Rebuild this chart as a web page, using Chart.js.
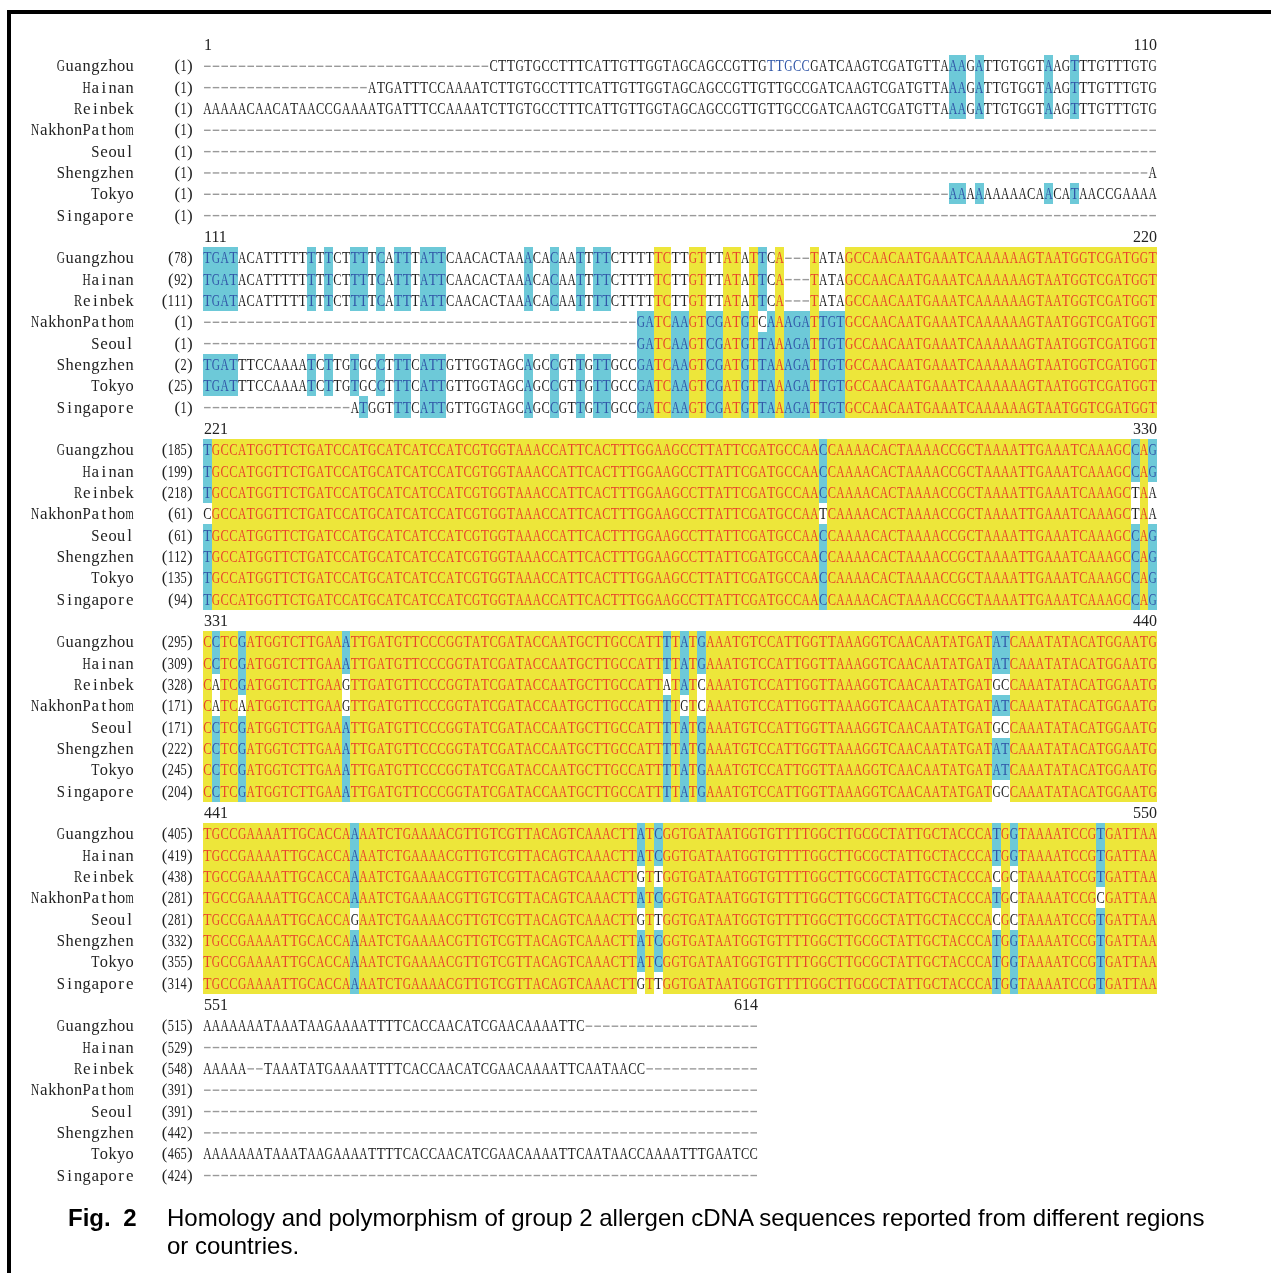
<!DOCTYPE html>
<html>
<head>
<meta charset="utf-8">
<script src="https://cdn.jsdelivr.net/npm/chart.js@4.4.0/dist/chart.umd.min.js"></script>
<style>
  html, body { margin: 0; padding: 0; background: #fff; }
  #wrap { position: relative; width: 1271px; height: 1273px; overflow: hidden; }
  #frame { position: absolute; left: 7px; top: 10px; width: 1300px; height: 1300px;
           border-left: 4px solid #000; border-top: 4px solid #000; }
  canvas { position: absolute; left: 0; top: 0; }
  .cap { position: absolute; top: 1204px; font-family: "Liberation Sans", Arial, sans-serif;
         font-size: 24px; line-height: 28px; color: #000; white-space: nowrap; }
</style>
</head>
<body>
<div id="wrap">
  <div id="frame"></div>
  <canvas id="grafico" width="1271" height="1273"></canvas>
  <div class="cap" style="left:68px;font-weight:bold;word-spacing:6px">Fig. 2</div>
  <div class="cap" style="left:167px">Homology and polymorphism of group 2 allergen cDNA sequences reported from different regions<br>or countries.</div>
</div>
<script>
// nomes das sequ칡ncias (linhas de cada bloco)
const nomes = ["Guangzhou", "Hainan", "Reinbek", "NakhonPathom", "Seoul", "Shengzhen", "Tokyo", "Singapore"];
const inicioBlocos = [1, 111, 221, 331, 441, 551];
const fimBlocos = [110, 220, 330, 440, 550, 614];

const lacuna = (n) => "-".repeat(n);

const bloco1 = [
  lacuna(33) + "CTTGTGCCTTTCATTGTTGGTAGCAGCCGTTGTTGCCGATCAAGTCGATGTTAAAGATTGTGGTAAGTTTGTTTGTG",
  lacuna(19) + "ATGATTTCCAAAAT" + "CTTGTGCCTTTCATTGTTGGTAGCAGCCGTTGTTGCCGATCAAGTCGATGTTAAAGATTGTGGTAAGTTTGTTTGTG",
  "AAAAACAACATAACCGAAAATGATTTCCAAAAT" + "CTTGTGCCTTTCATTGTTGGTAGCAGCCGTTGTTGCCGATCAAGTCGATGTTAAAGATTGTGGTAAGTTTGTTTGTG",
  lacuna(110),
  lacuna(110),
  lacuna(109) + "A",
  lacuna(86) + "AAAAAAAAACAACATAACCGAAAA",
  lacuna(110),
];

const bloco2 = [
  "TGATACATTTTTTTTCTTTTCATTTATTCAACACTAAACACAATTTTCTTTTTCTTGTTTATATTCA---TATAGCCAACAATGAAATCAAAAAAGTAATGGTCGATGGT",
  "TGATACATTTTTTTTCTTTTCATTTATTCAACACTAAACACAATTTTCTTTTTCTTGTTTATATTCA---TATAGCCAACAATGAAATCAAAAAAGTAATGGTCGATGGT",
  "TGATACATTTTTTTTCTTTTCATTTATTCAACACTAAACACAATTTTCTTTTTCTTGTTTATATTCA---TATAGCCAACAATGAAATCAAAAAAGTAATGGTCGATGGT",
  lacuna(50) + "GATCAAGTCGATGTCAAAGATTGTGCCAACAATGAAATCAAAAAAGTAATGGTCGATGGT",
  lacuna(50) + "GATCAAGTCGATGTTAAAGATTGTGCCAACAATGAAATCAAAAAAGTAATGGTCGATGGT",
  "TGATTTCCAAAATCTTGTGCCTTTCATTGTTGGTAGCAGCCGTTGTTGCCGATCAAGTCGATGTTAAAGATTGTGCCAACAATGAAATCAAAAAAGTAATGGTCGATGGT",
  "TGATTTCCAAAATCTTGTGCCTTTCATTGTTGGTAGCAGCCGTTGTTGCCGATCAAGTCGATGTTAAAGATTGTGCCAACAATGAAATCAAAAAAGTAATGGTCGATGGT",
  lacuna(17) + "ATGGTTTCATTGTTGGTAGCAGCCGTTGTTGCCGATCAAGTCGATGTTAAAGATTGTGCCAACAATGAAATCAAAAAAGTAATGGTCGATGGT",
];

const bloco3 = [
  "TGCCATGGTTCTGATCCATGCATCATCCATCGTGGTAAACCATTCACTTTGGAAGCCTTATTCGATGCCAACCAAAACACTAAAACCGCTAAAATTGAAATCAAAGCCAG",
  "TGCCATGGTTCTGATCCATGCATCATCCATCGTGGTAAACCATTCACTTTGGAAGCCTTATTCGATGCCAACCAAAACACTAAAACCGCTAAAATTGAAATCAAAGCCAG",
  "TGCCATGGTTCTGATCCATGCATCATCCATCGTGGTAAACCATTCACTTTGGAAGCCTTATTCGATGCCAACCAAAACACTAAAACCGCTAAAATTGAAATCAAAGCTAA",
  "CGCCATGGTTCTGATCCATGCATCATCCATCGTGGTAAACCATTCACTTTGGAAGCCTTATTCGATGCCAATCAAAACACTAAAACCGCTAAAATTGAAATCAAAGCTAA",
  "TGCCATGGTTCTGATCCATGCATCATCCATCGTGGTAAACCATTCACTTTGGAAGCCTTATTCGATGCCAACCAAAACACTAAAACCGCTAAAATTGAAATCAAAGCCAG",
  "TGCCATGGTTCTGATCCATGCATCATCCATCGTGGTAAACCATTCACTTTGGAAGCCTTATTCGATGCCAACCAAAACACTAAAACCGCTAAAATTGAAATCAAAGCCAG",
  "TGCCATGGTTCTGATCCATGCATCATCCATCGTGGTAAACCATTCACTTTGGAAGCCTTATTCGATGCCAACCAAAACACTAAAACCGCTAAAATTGAAATCAAAGCCAG",
  "TGCCATGGTTCTGATCCATGCATCATCCATCGTGGTAAACCATTCACTTTGGAAGCCTTATTCGATGCCAACCAAAACACTAAAACCGCTAAAATTGAAATCAAAGCCAG",
];

const bloco4 = [
  "CCTCGATGGTCTTGAAATTGATGTTCCCGGTATCGATACCAATGCTTGCCATTTTATGAAATGTCCATTGGTTAAAGGTCAACAATATGATATCAAATATACATGGAATG",
  "CCTCGATGGTCTTGAAATTGATGTTCCCGGTATCGATACCAATGCTTGCCATTTTATGAAATGTCCATTGGTTAAAGGTCAACAATATGATATCAAATATACATGGAATG",
  "CATCGATGGTCTTGAAGTTGATGTTCCCGGTATCGATACCAATGCTTGCCATTATATCAAATGTCCATTGGTTAAAGGTCAACAATATGATGCCAAATATACATGGAATG",
  "CATCAATGGTCTTGAAGTTGATGTTCCCGGTATCGATACCAATGCTTGCCATTTTGTCAAATGTCCATTGGTTAAAGGTCAACAATATGATATCAAATATACATGGAATG",
  "CCTCGATGGTCTTGAAATTGATGTTCCCGGTATCGATACCAATGCTTGCCATTTTATGAAATGTCCATTGGTTAAAGGTCAACAATATGATGCCAAATATACATGGAATG",
  "CCTCGATGGTCTTGAAATTGATGTTCCCGGTATCGATACCAATGCTTGCCATTTTATGAAATGTCCATTGGTTAAAGGTCAACAATATGATATCAAATATACATGGAATG",
  "CCTCGATGGTCTTGAAATTGATGTTCCCGGTATCGATACCAATGCTTGCCATTTTATGAAATGTCCATTGGTTAAAGGTCAACAATATGATATCAAATATACATGGAATG",
  "CCTCGATGGTCTTGAAATTGATGTTCCCGGTATCGATACCAATGCTTGCCATTTTATGAAATGTCCATTGGTTAAAGGTCAACAATATGATGCCAAATATACATGGAATG",
];

const bloco5 = [
  "TGCCGAAAATTGCACCAAAATCTGAAAACGTTGTCGTTACAGTCAAACTTATCGGTGATAATGGTGTTTTGGCTTGCGCTATTGCTACCCATGGTAAAATCCGTGATTAA",
  "TGCCGAAAATTGCACCAAAATCTGAAAACGTTGTCGTTACAGTCAAACTTATCGGTGATAATGGTGTTTTGGCTTGCGCTATTGCTACCCATGGTAAAATCCGTGATTAA",
  "TGCCGAAAATTGCACCAAAATCTGAAAACGTTGTCGTTACAGTCAAACTTGTTGGTGATAATGGTGTTTTGGCTTGCGCTATTGCTACCCACGCTAAAATCCGTGATTAA",
  "TGCCGAAAATTGCACCAAAATCTGAAAACGTTGTCGTTACAGTCAAACTTATCGGTGATAATGGTGTTTTGGCTTGCGCTATTGCTACCCATGCTAAAATCCGCGATTAA",
  "TGCCGAAAATTGCACCAGAATCTGAAAACGTTGTCGTTACAGTCAAACTTGTTGGTGATAATGGTGTTTTGGCTTGCGCTATTGCTACCCACGCTAAAATCCGTGATTAA",
  "TGCCGAAAATTGCACCAAAATCTGAAAACGTTGTCGTTACAGTCAAACTTATCGGTGATAATGGTGTTTTGGCTTGCGCTATTGCTACCCATGGTAAAATCCGTGATTAA",
  "TGCCGAAAATTGCACCAAAATCTGAAAACGTTGTCGTTACAGTCAAACTTATCGGTGATAATGGTGTTTTGGCTTGCGCTATTGCTACCCATGGTAAAATCCGTGATTAA",
  "TGCCGAAAATTGCACCAAAATCTGAAAACGTTGTCGTTACAGTCAAACTTGTTGGTGATAATGGTGTTTTGGCTTGCGCTATTGCTACCCATGGTAAAATCCGTGATTAA",
];

const bloco6 = [
  "AAAAAAATAAATAAGAAAATTTTCACCAACATCGAACAAAATTC" + lacuna(20),
  lacuna(64),
  "AAAAA--TAAATATGAAAATTTTCACCAACATCGAACAAAATTCAATAACC" + lacuna(13),
  lacuna(64),
  lacuna(64),
  lacuna(64),
  "AAAAAAATAAATAAGAAAATTTTCACCAACATCGAACAAAATTCAATAACCAAAATTTGAATCC",
  lacuna(64),
];

// trecho em texto azul sem fundo: [bloco, linha, coluna inicial, coluna final]
const destaques = [[0, 0, 66, 70]];

const blocos = [bloco1, bloco2, bloco3, bloco4, bloco5, bloco6];

const amarelo = "#EDE63A";
const azul = "#6DC9D8";
const corVermelha = "#E8452B";
const corAzulTexto = "#3157A8";
const corTexto = "#222222";
const corLacuna = "#9a9a9a";

// 游댳 classifica cada c칠lula: y = id칡ntico em todas, b = consenso (>= 4), n = normal, g = lacuna
function classificar(bloco) {
  const estilos = bloco.map(() => []);
  for (let c = 0; c < bloco[0].length; c++) {
    const contagem = {};
    bloco.forEach((s) => {
      if (s[c] !== "-") contagem[s[c]] = (contagem[s[c]] || 0) + 1;
    });
    let melhor = null;
    let max = 0;
    Object.keys(contagem).forEach((k) => {
      if (contagem[k] > max) { max = contagem[k]; melhor = k; }
    });
    bloco.forEach((s, r) => {
      let e = "n";
      if (s[c] === "-") e = "g";
      else if (max === bloco.length) e = "y";
      else if (max >= 4 && s[c] === melhor) e = "b";
      estilos[r][c] = e;
    });
  }
  return estilos;
}

const celulas = [];
const rotulos = [];
const contadores = nomes.map(() => 1);
blocos.forEach((bloco, b) => {
  const estilos = classificar(bloco);
  rotulos.push({ linha: b * 9, tipo: "cab", ini: inicioBlocos[b], fim: fimBlocos[b], len: bloco[0].length });
  bloco.forEach((s, r) => {
    const linha = b * 9 + 1 + r;
    rotulos.push({ linha, tipo: "seq", nome: nomes[r], num: contadores[r] });
    for (let c = 0; c < s.length; c++) {
      let e = estilos[r][c];
      destaques.forEach(([db, dr, di, df]) => {
        if (db === b && dr === r && c + 1 >= di && c + 1 <= df) e = "t";
      });
      celulas.push({ x: c + 1, y: linha, ch: s[c], e });
      if (s[c] !== "-") contadores[r]++;
    }
  });
});

const desenhaAlinhamento = {
  id: "alinhamento",
  beforeDatasetsDraw(chart) {
    const { ctx, scales: { x, y } } = chart;
    const pts = chart.data.datasets[0].data;
    const passo = x.getPixelForValue(1.5) - x.getPixelForValue(0.5);
    ctx.save();

    // fundos
    pts.forEach((p) => {
      if (p.e !== "y" && p.e !== "b") return;
      const x0 = Math.round(x.getPixelForValue(p.x - 0.5));
      const x1 = Math.round(x.getPixelForValue(p.x + 0.5));
      const ya = Math.round(y.getPixelForValue(p.y - 0.5));
      const yb = Math.round(y.getPixelForValue(p.y + 0.5));
      ctx.fillStyle = p.e === "y" ? amarelo : azul;
      ctx.fillRect(x0, Math.min(ya, yb), x1 - x0, Math.abs(yb - ya));
    });

    // letras e lacunas
    ctx.font = "17px 'Liberation Serif'";
    ctx.textAlign = "center";
    ctx.textBaseline = "middle";
    ctx.lineWidth = 1.4;
    ctx.strokeStyle = corLacuna;
    pts.forEach((p) => {
      const cx = x.getPixelForValue(p.x);
      const cy = y.getPixelForValue(p.y);
      if (p.e === "g") {
        ctx.beginPath();
        ctx.moveTo(cx - 3.3, cy + 0.5);
        ctx.lineTo(cx + 3.3, cy + 0.5);
        ctx.stroke();
        return;
      }
      ctx.fillStyle = p.e === "y" ? corVermelha : (p.e === "b" || p.e === "t") ? corAzulTexto : corTexto;
      ctx.fillText(p.ch, cx, cy + 1, passo - 0.4);
    });

    // nomes, posi칞칫es e cabe칞alhos
    ctx.fillStyle = corTexto;
    rotulos.forEach((l) => {
      const cy = y.getPixelForValue(l.linha);
      if (l.tipo === "cab") {
        ctx.font = "16px 'Liberation Serif'";
        ctx.textAlign = "left";
        ctx.fillText(String(l.ini), x.getPixelForValue(0.5) + 1, cy + 1);
        ctx.textAlign = "right";
        ctx.fillText(String(l.fim), x.getPixelForValue(l.len + 0.5), cy + 1);
        return;
      }
      ctx.font = "17px 'Liberation Serif'";
      ctx.textAlign = "center";
      const nome = l.nome;
      for (let i = 0; i < nome.length; i++) {
        ctx.fillText(nome[i], 134 - (nome.length - i - 0.5) * 8.6, cy + 1, 8.2);
      }
      const num = "(" + l.num + ")";
      for (let i = 0; i < num.length; i++) {
        ctx.fillText(num[i], 193 - (num.length - i - 0.5) * 6.3, cy + 1, 6.2);
      }
    });
    ctx.restore();
  },
};

new Chart(document.getElementById("grafico").getContext("2d"), {
  type: "scatter",
  data: { datasets: [{ data: celulas, pointRadius: 0, pointHoverRadius: 0 }] },
  options: {
    responsive: false,
    maintainAspectRatio: false,
    devicePixelRatio: 1,
    animation: false,
    events: [],
    layout: { padding: { left: 203, right: 114, top: 33.8, bottom: 87.3 } },
    plugins: { legend: { display: false }, tooltip: { enabled: false } },
    scales: {
      x: { type: "linear", min: 0.5, max: 110.5, display: false },
      y: { type: "linear", min: -0.5, max: 53.5, reverse: true, display: false },
    },
  },
  plugins: [desenhaAlinhamento],
});

// confer칡ncia dos comprimentos
blocos.forEach((bloco, b) => {
  bloco.forEach((s, r) => {
    const esperado = fimBlocos[b] - inicioBlocos[b] + 1;
    if (s.length !== esperado) {
      setTimeout(() => { throw new Error("bloco " + (b + 1) + " linha " + r + ": " + s.length); }, 0);
    }
  });
});
</script>
</body>
</html>
